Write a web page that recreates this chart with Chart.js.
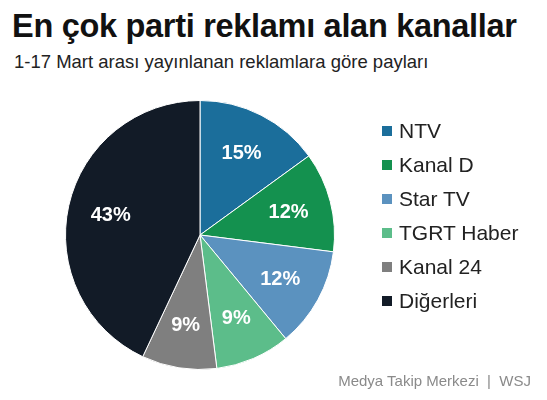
<!DOCTYPE html>
<html><head><meta charset="utf-8">
<script src="https://cdn.jsdelivr.net/npm/chart.js@4"></script>
<style>
body{margin:0;width:547px;height:400px;background:#fff;font-family:Arial,"Liberation Sans",sans-serif;position:relative;overflow:hidden}
#t{position:absolute;left:12px;top:8px;font-size:32.5px;font-weight:bold;color:#111;letter-spacing:-0.3px;white-space:nowrap}
#s{position:absolute;left:14px;top:51px;font-size:18.5px;color:#222;white-space:nowrap}
#f{position:absolute;right:16px;top:372px;font-size:15px;color:#8a8a8a}
#c{position:absolute;left:0;top:90px;width:400px;height:290px}
#lg{position:absolute;left:382px;top:114px;font-size:21px;color:#222}
#lg div{height:34px;display:flex;align-items:center;white-space:nowrap}
#lg span{display:inline-block;width:10px;height:10px;margin-right:7px}
</style></head><body>
<div id="t">En çok parti reklamı alan kanallar</div>
<div id="s">1-17 Mart arası yayınlanan reklamlara göre payları</div>
<div id="c"><canvas id="cv"></canvas></div>
<div id="lg"></div>
<div id="f">Medya Takip Merkezi &nbsp;|&nbsp; WSJ</div>
<script>
const categories=["NTV","Kanal D","Star TV","TGRT Haber","Kanal 24","Diğerleri"];
const values=[15,12,12,9,9,43];
const colors=["#1b6e9b","#14914f","#5b92bf","#5cbd8a","#7f7f7f","#121b27"];
const lg=document.getElementById('lg');
categories.forEach((c,i)=>{const d=document.createElement('div');d.innerHTML='<span style="background:'+colors[i]+'"></span>'+c;lg.appendChild(d);});
const labelPlugin={id:'lbl',afterDatasetsDraw(ch){const ctx=ch.ctx;const meta=ch.getDatasetMeta(0);ctx.save();ctx.fillStyle='#fff';ctx.font='bold 20px Arial, "Liberation Sans"';ctx.textAlign='center';ctx.textBaseline='middle';
meta.data.forEach((a,i)=>{const m=(a.startAngle+a.endAngle)/2;const r=a.outerRadius*0.68;ctx.fillText(values[i]+'%',a.x+Math.cos(m)*r,a.y+Math.sin(m)*r);});ctx.restore();}};
new Chart(document.getElementById('cv'),{type:'pie',data:{labels:categories,datasets:[{data:values,backgroundColor:colors,borderColor:'#fff',borderWidth:1}]},
options:{responsive:true,maintainAspectRatio:false,animation:false,layout:{padding:10},plugins:{legend:{display:false},tooltip:{enabled:false}}},plugins:[labelPlugin]});
</script></body></html>
